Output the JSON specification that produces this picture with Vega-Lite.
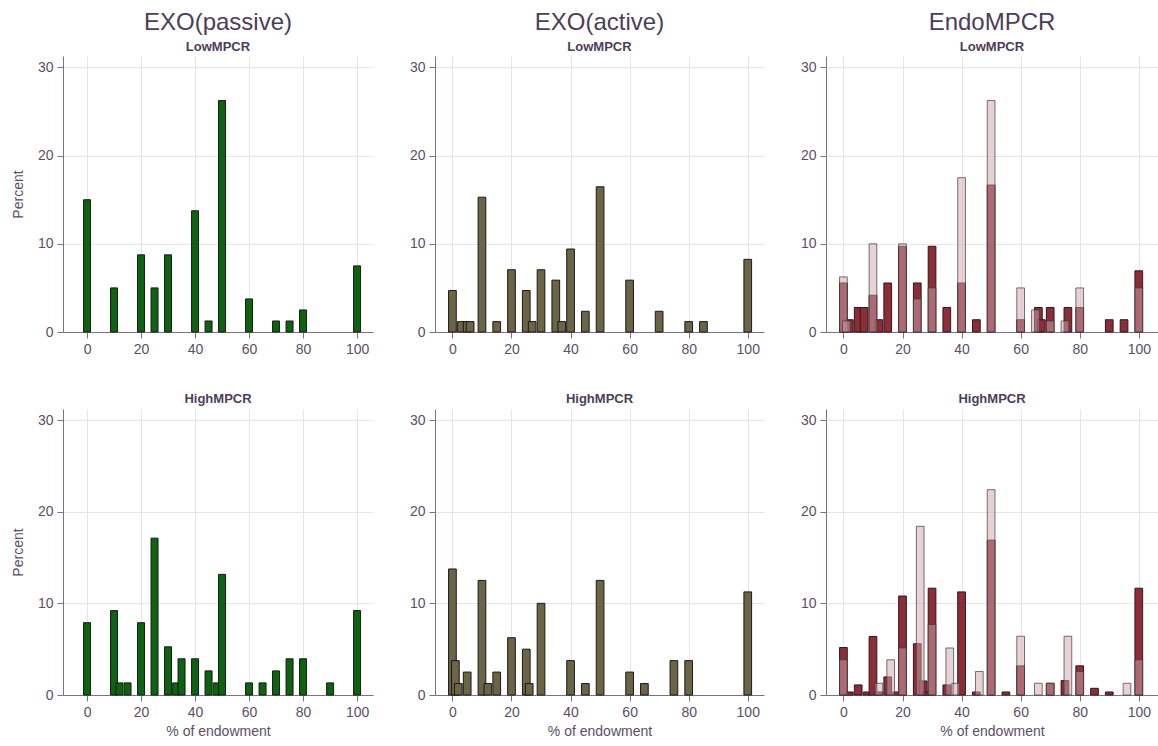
{
  "$schema": "https://vega.github.io/schema/vega-lite/v6.json",
  "padding": {"left": 11, "top": 11, "right": 0, "bottom": 0},
  "background": "white",
  "config": {
    "view": {"stroke": null},
    "font": "Liberation Sans",
    "scale": {"continuousPadding": 0},
    "axis": {
      "labelFont": "Liberation Sans", "labelFontSize": 14, "labelColor": "#5c4e66",
      "titleFont": "Liberation Sans", "titleFontSize": 14, "titleFontWeight": "normal", "titleColor": "#5c4e66",
      "domainColor": "#7d6f85", "tickColor": "#7d6f85", "gridColor": "#e6e6e6",
      "tickSize": 6, "labelPadding": 4, "grid": true
    },
    "axisY": {"titlePadding": 12},
    "axisX": {"titlePadding": 5},
    "title": {
      "font": "Liberation Sans", "fontSize": 24, "fontWeight": "normal", "color": "#4e3d59",
      "subtitleFont": "Liberation Sans", "subtitleFontSize": 13, "subtitleFontWeight": "bold", "subtitleColor": "#4e3d59",
      "anchor": "middle", "frame": "group", "offset": 2, "subtitlePadding": 6
    }
  },
  "data": {"values": [
    {"p":"pl","x":0,"y":15},{"p":"pl","x":10,"y":5},{"p":"pl","x":20,"y":8.75},{"p":"pl","x":25,"y":5},{"p":"pl","x":30,"y":8.75},{"p":"pl","x":40,"y":13.75},{"p":"pl","x":45,"y":1.25},{"p":"pl","x":50,"y":26.25},{"p":"pl","x":60,"y":3.75},{"p":"pl","x":70,"y":1.25},{"p":"pl","x":75,"y":1.25},{"p":"pl","x":80,"y":2.5},{"p":"pl","x":100,"y":7.5},
    {"p":"al","x":0,"y":4.71},{"p":"al","x":3,"y":1.18},{"p":"al","x":5,"y":1.18},{"p":"al","x":6,"y":1.18},{"p":"al","x":10,"y":15.29},{"p":"al","x":15,"y":1.18},{"p":"al","x":20,"y":7.06},{"p":"al","x":25,"y":4.71},{"p":"al","x":27,"y":1.18},{"p":"al","x":30,"y":7.06},{"p":"al","x":35,"y":5.88},{"p":"al","x":37,"y":1.18},{"p":"al","x":40,"y":9.41},{"p":"al","x":45,"y":2.35},{"p":"al","x":50,"y":16.47},{"p":"al","x":60,"y":5.88},{"p":"al","x":70,"y":2.35},{"p":"al","x":80,"y":1.18},{"p":"al","x":85,"y":1.18},{"p":"al","x":100,"y":8.24},
    {"p":"eld","x":0,"y":5.56},{"p":"eld","x":2,"y":1.39},{"p":"eld","x":5,"y":2.78},{"p":"eld","x":7,"y":2.78},{"p":"eld","x":10,"y":4.17},{"p":"eld","x":12,"y":1.39},{"p":"eld","x":15,"y":5.56},{"p":"eld","x":20,"y":9.72},{"p":"eld","x":25,"y":5.56},{"p":"eld","x":30,"y":9.72},{"p":"eld","x":35,"y":2.78},{"p":"eld","x":40,"y":5.56},{"p":"eld","x":45,"y":1.39},{"p":"eld","x":50,"y":16.67},{"p":"eld","x":60,"y":1.39},{"p":"eld","x":66,"y":2.78},{"p":"eld","x":67,"y":1.39},{"p":"eld","x":70,"y":2.78},{"p":"eld","x":76,"y":2.78},{"p":"eld","x":80,"y":2.78},{"p":"eld","x":90,"y":1.39},{"p":"eld","x":95,"y":1.39},{"p":"eld","x":100,"y":6.94},
    {"p":"ell","x":0,"y":6.25},{"p":"ell","x":1,"y":1.25},{"p":"ell","x":10,"y":10},{"p":"ell","x":20,"y":10},{"p":"ell","x":25,"y":3.75},{"p":"ell","x":30,"y":5},{"p":"ell","x":40,"y":17.5},{"p":"ell","x":50,"y":26.25},{"p":"ell","x":60,"y":5},{"p":"ell","x":65,"y":2.5},{"p":"ell","x":70,"y":1.25},{"p":"ell","x":75,"y":1.25},{"p":"ell","x":80,"y":5},{"p":"ell","x":100,"y":5},
    {"p":"ph","x":0,"y":7.89},{"p":"ph","x":10,"y":9.21},{"p":"ph","x":12,"y":1.32},{"p":"ph","x":15,"y":1.32},{"p":"ph","x":20,"y":7.89},{"p":"ph","x":25,"y":17.11},{"p":"ph","x":30,"y":5.26},{"p":"ph","x":33,"y":1.32},{"p":"ph","x":35,"y":3.95},{"p":"ph","x":40,"y":3.95},{"p":"ph","x":45,"y":2.63},{"p":"ph","x":48,"y":1.32},{"p":"ph","x":50,"y":13.16},{"p":"ph","x":60,"y":1.32},{"p":"ph","x":65,"y":1.32},{"p":"ph","x":70,"y":2.63},{"p":"ph","x":75,"y":3.95},{"p":"ph","x":80,"y":3.95},{"p":"ph","x":90,"y":1.32},{"p":"ph","x":100,"y":9.21},
    {"p":"ah","x":0,"y":13.75},{"p":"ah","x":1,"y":3.75},{"p":"ah","x":2,"y":1.25},{"p":"ah","x":5,"y":2.5},{"p":"ah","x":10,"y":12.5},{"p":"ah","x":12,"y":1.25},{"p":"ah","x":15,"y":2.5},{"p":"ah","x":20,"y":6.25},{"p":"ah","x":25,"y":5},{"p":"ah","x":26,"y":1.25},{"p":"ah","x":30,"y":10},{"p":"ah","x":40,"y":3.75},{"p":"ah","x":45,"y":1.25},{"p":"ah","x":50,"y":12.5},{"p":"ah","x":60,"y":2.5},{"p":"ah","x":65,"y":1.25},{"p":"ah","x":75,"y":3.75},{"p":"ah","x":80,"y":3.75},{"p":"ah","x":100,"y":11.25},
    {"p":"ehd","x":0,"y":5.18},{"p":"ehd","x":2,"y":0.33},{"p":"ehd","x":5,"y":1.1},{"p":"ehd","x":8,"y":0.33},{"p":"ehd","x":10,"y":6.39},{"p":"ehd","x":12,"y":0.33},{"p":"ehd","x":15,"y":1.97},{"p":"ehd","x":18,"y":0.33},{"p":"ehd","x":20,"y":10.8},{"p":"ehd","x":25,"y":5.59},{"p":"ehd","x":27,"y":1.53},{"p":"ehd","x":28,"y":0.33},{"p":"ehd","x":30,"y":11.65},{"p":"ehd","x":35,"y":1.1},{"p":"ehd","x":40,"y":11.25},{"p":"ehd","x":45,"y":0.33},{"p":"ehd","x":50,"y":16.9},{"p":"ehd","x":55,"y":0.33},{"p":"ehd","x":60,"y":3.18},{"p":"ehd","x":70,"y":1.28},{"p":"ehd","x":75,"y":1.57},{"p":"ehd","x":80,"y":3.18},{"p":"ehd","x":85,"y":0.73},{"p":"ehd","x":90,"y":0.33},{"p":"ehd","x":100,"y":11.65},
    {"p":"ehl","x":0,"y":3.84},{"p":"ehl","x":12,"y":1.28},{"p":"ehl","x":16,"y":3.84},{"p":"ehl","x":20,"y":5.13},{"p":"ehl","x":26,"y":18.4},{"p":"ehl","x":30,"y":7.69},{"p":"ehl","x":36,"y":5.13},{"p":"ehl","x":38,"y":1.28},{"p":"ehl","x":46,"y":2.56},{"p":"ehl","x":50,"y":22.4},{"p":"ehl","x":60,"y":6.41},{"p":"ehl","x":66,"y":1.28},{"p":"ehl","x":70,"y":1.28},{"p":"ehl","x":76,"y":6.41},{"p":"ehl","x":80,"y":2.56},{"p":"ehl","x":96,"y":1.28},{"p":"ehl","x":100,"y":3.84}
  ]},
  "columns": 3,
  "bounds": "flush",
  "spacing": {"row": 77, "column": 62},
  "concat": [
    {
      "width": 310, "height": 276,
      "title": {"text": "EXO(passive)", "subtitle": "LowMPCR"},
      "transform": [{"filter": "datum.p == 'pl'"}],
      "mark": {"type": "bar", "orient": "vertical", "width": 7, "fill": "#0d6310", "stroke": "#1a1a1a", "strokeWidth": 1},
      "encoding": {
        "x": {"field": "x", "type": "quantitative", "scale": {"domain": [-8.9, 105.9], "nice": false, "zero": false, "padding": 0}, "axis": {"values": [0,20,40,60,80,100], "title": null}},
        "y": {"field": "y", "type": "quantitative", "scale": {"domain": [0, 31.3], "nice": false, "padding": 0}, "axis": {"values": [0,10,20,30], "title": "Percent"}}
      }
    },
    {
      "width": 329, "height": 276,
      "title": {"text": "EXO(active)", "subtitle": "LowMPCR"},
      "transform": [{"filter": "datum.p == 'al'"}],
      "mark": {"type": "bar", "orient": "vertical", "width": 7.7, "fill": "#6b6446", "stroke": "#1a1a1a", "strokeWidth": 1},
      "encoding": {
        "x": {"field": "x", "type": "quantitative", "scale": {"domain": [-5.9, 105.5], "nice": false, "zero": false, "padding": 0}, "axis": {"values": [0,20,40,60,80,100], "title": null}},
        "y": {"field": "y", "type": "quantitative", "scale": {"domain": [0, 31.3], "nice": false, "padding": 0}, "axis": {"values": [0,10,20,30], "title": null}}
      }
    },
    {
      "width": 332, "height": 276,
      "title": {"text": "EndoMPCR", "subtitle": "LowMPCR"},
      "encoding": {
        "x": {"field": "x", "type": "quantitative", "scale": {"domain": [-5.9, 106.5], "nice": false, "zero": false, "padding": 0}, "axis": {"values": [0,20,40,60,80,100], "title": null}},
        "y": {"field": "y", "type": "quantitative", "scale": {"domain": [0, 31.3], "nice": false, "padding": 0}, "axis": {"values": [0,10,20,30], "title": null}}
      },
      "layer": [
        {"transform": [{"filter": "datum.p == 'eld'"}], "mark": {"type": "bar", "orient": "vertical", "width": 7.7, "fill": "#8c2d38", "stroke": "#2a1a1c", "strokeWidth": 1}},
        {"transform": [{"filter": "datum.p == 'ell'"}], "mark": {"type": "bar", "orient": "vertical", "width": 7.7, "fill": "#d1a5ab", "fillOpacity": 0.5, "stroke": "#3a3a3a", "strokeOpacity": 0.7, "strokeWidth": 1}}
      ]
    },
    {
      "width": 310, "height": 286,
      "title": {"text": "HighMPCR", "fontSize": 13, "fontWeight": "bold", "offset": 3},
      "transform": [{"filter": "datum.p == 'ph'"}],
      "mark": {"type": "bar", "orient": "vertical", "width": 7, "fill": "#0d6310", "stroke": "#1a1a1a", "strokeWidth": 1},
      "encoding": {
        "x": {"field": "x", "type": "quantitative", "scale": {"domain": [-8.9, 105.9], "nice": false, "zero": false, "padding": 0}, "axis": {"values": [0,20,40,60,80,100], "title": "% of endowment"}},
        "y": {"field": "y", "type": "quantitative", "scale": {"domain": [0, 31.2], "nice": false, "padding": 0}, "axis": {"values": [0,10,20,30], "title": "Percent"}}
      }
    },
    {
      "width": 329, "height": 286,
      "title": {"text": "HighMPCR", "fontSize": 13, "fontWeight": "bold", "offset": 3},
      "transform": [{"filter": "datum.p == 'ah'"}],
      "mark": {"type": "bar", "orient": "vertical", "width": 7.7, "fill": "#6b6446", "stroke": "#1a1a1a", "strokeWidth": 1},
      "encoding": {
        "x": {"field": "x", "type": "quantitative", "scale": {"domain": [-5.9, 105.5], "nice": false, "zero": false, "padding": 0}, "axis": {"values": [0,20,40,60,80,100], "title": "% of endowment"}},
        "y": {"field": "y", "type": "quantitative", "scale": {"domain": [0, 31.2], "nice": false, "padding": 0}, "axis": {"values": [0,10,20,30], "title": null}}
      }
    },
    {
      "width": 332, "height": 286,
      "title": {"text": "HighMPCR", "fontSize": 13, "fontWeight": "bold", "offset": 3},
      "encoding": {
        "x": {"field": "x", "type": "quantitative", "scale": {"domain": [-5.9, 106.5], "nice": false, "zero": false, "padding": 0}, "axis": {"values": [0,20,40,60,80,100], "title": "% of endowment"}},
        "y": {"field": "y", "type": "quantitative", "scale": {"domain": [0, 31.2], "nice": false, "padding": 0}, "axis": {"values": [0,10,20,30], "title": null}}
      },
      "layer": [
        {"transform": [{"filter": "datum.p == 'ehd'"}], "mark": {"type": "bar", "orient": "vertical", "width": 7.7, "fill": "#8c2d38", "stroke": "#2a1a1c", "strokeWidth": 1}},
        {"transform": [{"filter": "datum.p == 'ehl'"}], "mark": {"type": "bar", "orient": "vertical", "width": 7.7, "fill": "#d1a5ab", "fillOpacity": 0.5, "stroke": "#3a3a3a", "strokeOpacity": 0.7, "strokeWidth": 1}}
      ]
    }
  ]
}
